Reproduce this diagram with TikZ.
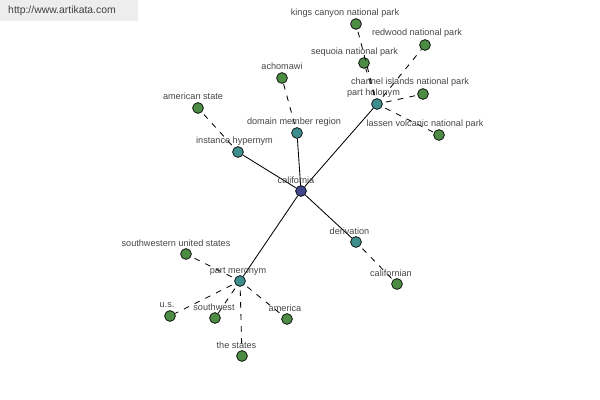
\documentclass[tikz,border=0pt]{standalone}
\usepackage{fontspec}
\setmainfont{Liberation Sans}
\definecolor{leaf}{HTML}{4C8C44}
\definecolor{rel}{HTML}{3F8E8E}
\definecolor{root}{HTML}{3F478A}
\definecolor{lbl}{HTML}{454545}
\begin{document}
\begin{tikzpicture}[x=0.025cm,y=-0.025cm,
  dot/.style={circle,draw=black,line width=0.5pt,inner sep=0pt,minimum size=0.27cm},
  leafdot/.style={dot,fill=leaf},
  reldot/.style={dot,fill=rel},
  rootdot/.style={dot,fill=root},
  lab/.style={font=\fontsize{6.5}{7}\selectfont,text=lbl,inner sep=0pt},
  solidedge/.style={line width=0.6pt},
  dashedge/.style={line width=0.6pt,dash pattern=on 4pt off 4.5pt,dash phase=6pt}]
\useasboundingbox (0,0) rectangle (600,400);
\fill[black!7] (0,0) rectangle (138,21);
\node[font=\fontsize{7.4}{8}\selectfont,text=black!75,inner sep=0pt] (wm) at (62,11) {http://www.artikata.com};
% nodes
\node[rootdot] (cal) at (301,191) {};
\node[reldot] (ih) at (238,152) {};
\node[reldot] (dmr) at (297,133) {};
\node[reldot] (ph) at (377,104) {};
\node[reldot] (der) at (356,242) {};
\node[reldot] (pm) at (240,281) {};
\node[leafdot] (as) at (198,108) {};
\node[leafdot] (ach) at (282,78) {};
\node[leafdot] (kc) at (356,24) {};
\node[leafdot] (seq) at (364,63) {};
\node[leafdot] (red) at (425,45) {};
\node[leafdot] (ci) at (423,94) {};
\node[leafdot] (las) at (439,135) {};
\node[leafdot] (cfn) at (397,284) {};
\node[leafdot] (sus) at (186,254) {};
\node[leafdot] (us) at (170,316) {};
\node[leafdot] (sw) at (215,318) {};
\node[leafdot] (am) at (287,319) {};
\node[leafdot] (ts) at (242,356) {};
% edges
\draw[solidedge] (cal) -- (ih);
\draw[solidedge] (cal) -- (dmr);
\draw[solidedge] (cal) -- (ph);
\draw[solidedge] (cal) -- (der);
\draw[solidedge] (cal) -- (pm);
\draw[dashedge] (ih) -- (as);
\draw[dashedge] (dmr) -- (ach);
\draw[dashedge] (ph) -- (kc);
\draw[dashedge] (ph) -- (seq);
\draw[dashedge] (ph) -- (red);
\draw[dashedge] (ph) -- (ci);
\draw[dashedge] (ph) -- (las);
\draw[dashedge] (der) -- (cfn);
\draw[dashedge] (pm) -- (sus);
\draw[dashedge] (pm) -- (us);
\draw[dashedge] (pm) -- (sw);
\draw[dashedge] (pm) -- (am);
\draw[dashedge] (pm) -- (ts);
% labels
\node[lab] (lcal) at (296,180) {california};
\node[lab] (lih) at (234.5,141) {instance hypernym};
\node[lab] (ldmr) at (294,122) {domain member region};
\node[lab] (lph) at (373.5,93) {part holonym};
\node[lab] (lder) at (349.5,231) {derivation};
\node[lab] (lpm) at (238,271) {part meronym};
\node[lab] (las2) at (193,96) {american state};
\node[lab] (lach) at (282,66) {achomawi};
\node[lab] (lkc) at (345,13) {kings canyon national park};
\node[lab] (lseq) at (354.5,52) {sequoia national park};
\node[lab] (lred) at (417,33) {redwood national park};
\node[lab] (lci) at (410,82) {channel islands national park};
\node[lab] (llas) at (425,124) {lassen volcanic national park};
\node[lab] (lcfn) at (391,273) {californian};
\node[lab] (lsus) at (176,243) {southwestern united states};
\node[lab] (lus) at (167,305) {u.s.};
\node[lab] (lsw) at (214,307) {southwest};
\node[lab] (lam) at (285,308) {america};
\node[lab] (lts) at (236.5,345) {the states};
\end{tikzpicture}
\end{document}
